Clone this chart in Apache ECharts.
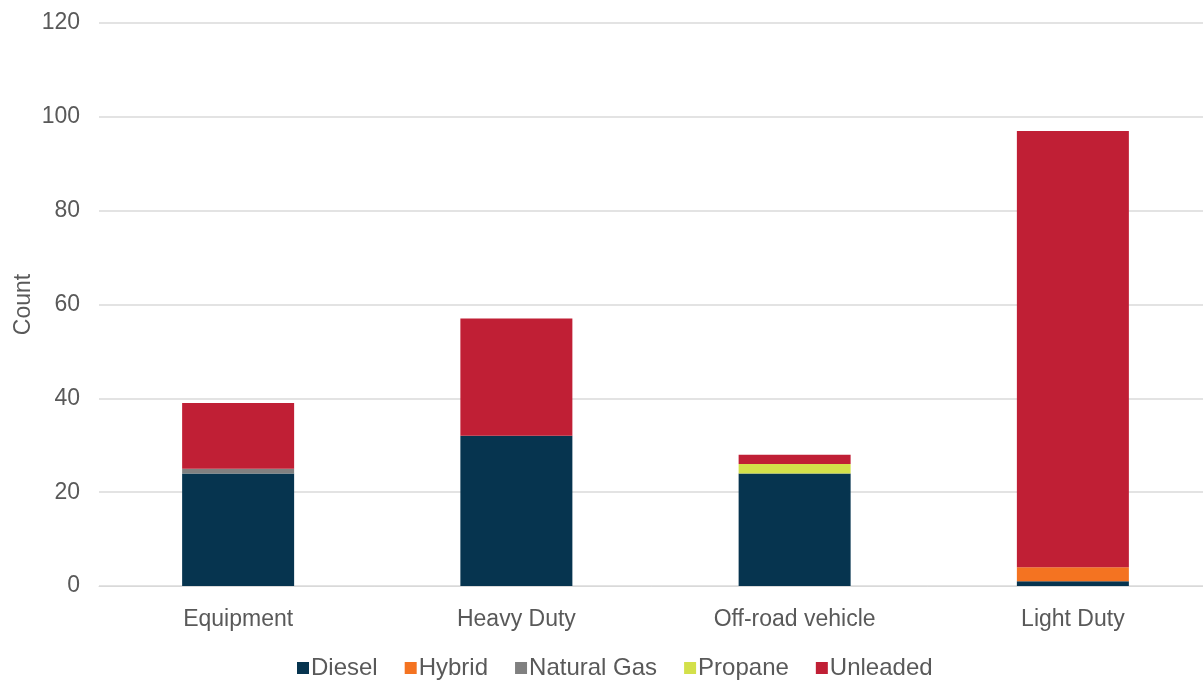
<!DOCTYPE html>
<html>
<head>
<meta charset="utf-8">
<script src="https://cdn.jsdelivr.net/npm/echarts@6/dist/echarts.min.js"></script>
<style>
  html, body { margin: 0; padding: 0; background: #fff; }
  #chart { width: 1203px; height: 681px; }
</style>
</head>
<body>
<div id="chart"></div>
<script>
// Vehicle counts by class, stacked by fuel type
const categories = ['Equipment', 'Heavy Duty', 'Off-road vehicle', 'Light Duty'];
const diesel     = [24, 32, 24, 1];
const hybrid     = [0, 0, 0, 3];
const naturalGas = [1, 0, 0, 0];
const propane    = [0, 0, 2, 0];
const unleaded   = [14, 25, 2, 93];
const yTicks = [0, 20, 40, 60, 80, 100, 120];

const font = 'Liberation Sans, Arial, sans-serif';
const textColor = '#595959';

const seriesDefs = [
  { name: 'Diesel', data: diesel, color: '#06344F' },
  { name: 'Hybrid', data: hybrid, color: '#F47321' },
  { name: 'Natural Gas', data: naturalGas, color: '#808080' },
  { name: 'Propane', data: propane, color: '#D3E04A' },
  { name: 'Unleaded', data: unleaded, color: '#C01F35' }
];

const chart = echarts.init(document.getElementById('chart'), null, { renderer: 'canvas' });
chart.setOption({
  animation: false,
  grid: { left: 99, top: 23, right: -9, bottom: 95, containLabel: false, outerBoundsMode: 'none' },
  legend: {
    bottom: -4,
    left: 292,
    itemWidth: 12,
    itemHeight: 12,
    itemGap: 27,
    icon: 'rect',
    textStyle: { fontFamily: font, fontSize: 24, color: textColor, padding: [0, 0, 0, -3] },
    data: seriesDefs.map(s => s.name)
  },
  xAxis: {
    type: 'category',
    data: categories,
    axisLine: { show: true, lineStyle: { color: '#d9d9d9', width: 1 } },
    axisTick: { show: false },
    axisLabel: { fontFamily: font, fontSize: 23, color: textColor, margin: 22 }
  },
  yAxis: {
    type: 'value',
    min: yTicks[0],
    max: yTicks[yTicks.length - 1],
    interval: 20,
    name: 'Count',
    nameLocation: 'middle',
    nameGap: 64,
    nameMoveOverlap: false,
    nameTextStyle: { fontFamily: font, fontSize: 23, color: textColor },
    axisLine: { show: false },
    axisTick: { show: false },
    splitLine: { lineStyle: { color: '#e3e3e3', width: 2 } },
    axisLabel: { fontFamily: font, fontSize: 23, color: textColor, margin: 19 }
  },
  series: seriesDefs.map(s => ({
    name: s.name,
    type: 'bar',
    stack: 'fuel',
    barWidth: 112,
    data: s.data,
    itemStyle: { color: s.color }
  }))
});
</script>
</body>
</html>
